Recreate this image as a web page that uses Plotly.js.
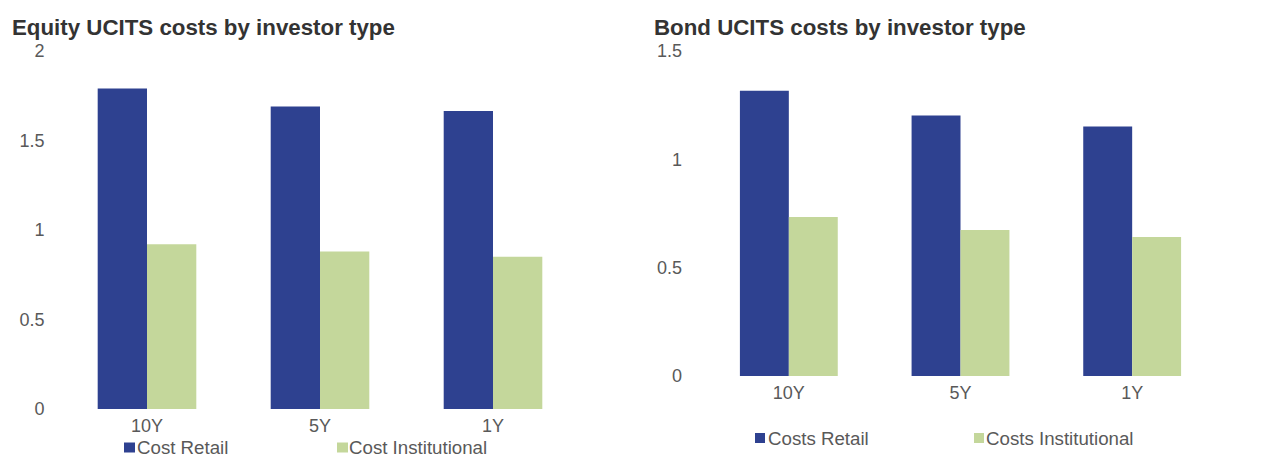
<!DOCTYPE html>
<html><head><meta charset="utf-8">
<script src="https://cdn.plot.ly/plotly-3.0.1.min.js"></script>
<style>body{margin:0;background:#fff}#chart{width:1273px;height:459px}</style>
</head><body><div id="chart"></div>
<script>
const categories = ["10Y", "5Y", "1Y"];
const equityRetail = [1.79, 1.69, 1.665];
const equityInstitutional = [0.92, 0.88, 0.85];
const bondRetail = [1.317, 1.202, 1.151];
const bondInstitutional = [0.734, 0.674, 0.642];
const equityTicks = [0, 0.5, 1, 1.5, 2];
const bondTicks = [0, 0.5, 1, 1.5];
const equitySeriesNames = ["Cost Retail", "Cost Institutional"];
const bondSeriesNames = ["Costs Retail", "Costs Institutional"];
const titles = ["Equity UCITS costs by investor type", "Bond UCITS costs by investor type"];

const cRetail = "#2E4190";
const cInst = "#C4D79B";
const font = "Liberation Sans, Arial, sans-serif";
const W = 1273, H = 459;

const traces = [
  {type: "bar", x: categories, y: equityRetail, name: equitySeriesNames[0], marker: {color: cRetail}, xaxis: "x", yaxis: "y", hoverinfo: "y"},
  {type: "bar", x: categories, y: equityInstitutional, name: equitySeriesNames[1], marker: {color: cInst}, xaxis: "x", yaxis: "y", hoverinfo: "y"},
  {type: "bar", x: categories, y: bondRetail, name: bondSeriesNames[0], marker: {color: cRetail}, xaxis: "x2", yaxis: "y2", hoverinfo: "y"},
  {type: "bar", x: categories, y: bondInstitutional, name: bondSeriesNames[1], marker: {color: cInst}, xaxis: "x2", yaxis: "y2", hoverinfo: "y"}
];

const tickFont = {family: font, size: 18, color: "#595959"};
const legFont = {family: font, size: 18.7, color: "#595959"};
const titleFont = {family: font, size: 22.3, color: "#333333"};

// legend swatches and labels (pixel layout positions)
const legendItems = [
  {label: equitySeriesNames[0], color: cRetail, sq: [124, 135], tx: 136, cy: 447.5},
  {label: equitySeriesNames[1], color: cInst, sq: [337, 348], tx: 348, cy: 447.5},
  {label: bondSeriesNames[0], color: cRetail, sq: [755, 765], tx: 767, cy: 438},
  {label: bondSeriesNames[1], color: cInst, sq: [974, 984], tx: 985, cy: 438}
];

const shapes = legendItems.map(it => ({
  type: "rect", xref: "paper", yref: "paper",
  x0: it.sq[0] / W, x1: it.sq[1] / W,
  y0: 1 - (it.cy + 5) / H, y1: 1 - (it.cy - 5) / H,
  fillcolor: it.color, line: {width: 0}
}));

const annotations = legendItems.map(it => ({
  text: it.label, xref: "paper", yref: "paper",
  x: it.tx / W, y: 1 - it.cy / H, xanchor: "left", yanchor: "middle",
  showarrow: false, font: legFont, borderpad: 0
})).concat([
  {text: "<b>" + titles[0] + "</b>", xref: "paper", yref: "paper", x: 11 / W, y: 1 - 27 / H, xanchor: "left", yanchor: "middle", showarrow: false, font: titleFont, borderpad: 0},
  {text: "<b>" + titles[1] + "</b>", xref: "paper", yref: "paper", x: 653 / W, y: 1 - 27 / H, xanchor: "left", yanchor: "middle", showarrow: false, font: titleFont, borderpad: 0}
]);

const axBase = {showgrid: false, zeroline: false, showline: false, ticks: "", fixedrange: true, tickfont: tickFont};

const layout = {
  width: W, height: H,
  margin: {l: 0, r: 0, t: 0, b: 0},
  paper_bgcolor: "#fff", plot_bgcolor: "#fff",
  barmode: "group", bargap: 0.43, bargroupgap: 0,
  font: {family: font},
  showlegend: false,
  xaxis: Object.assign({}, axBase, {domain: [60.5 / W, 579.5 / W], anchor: "y", ticklabelstandoff: 4}),
  yaxis: Object.assign({}, axBase, {domain: [50 / H, 408 / H], anchor: "x", range: [0, 2], tickvals: equityTicks, ticktext: equityTicks.map(String), ticklabelstandoff: 15}),
  xaxis2: Object.assign({}, axBase, {domain: [703 / W, 1218 / W], anchor: "y2", ticklabelstandoff: 4}),
  yaxis2: Object.assign({}, axBase, {domain: [83 / H, 408 / H], anchor: "x2", range: [0, 1.5], tickvals: bondTicks, ticktext: bondTicks.map(String), ticklabelstandoff: 20}),
  shapes: shapes,
  annotations: annotations
};

Plotly.newPlot("chart", traces, layout, {displayModeBar: false});
</script></body></html>
